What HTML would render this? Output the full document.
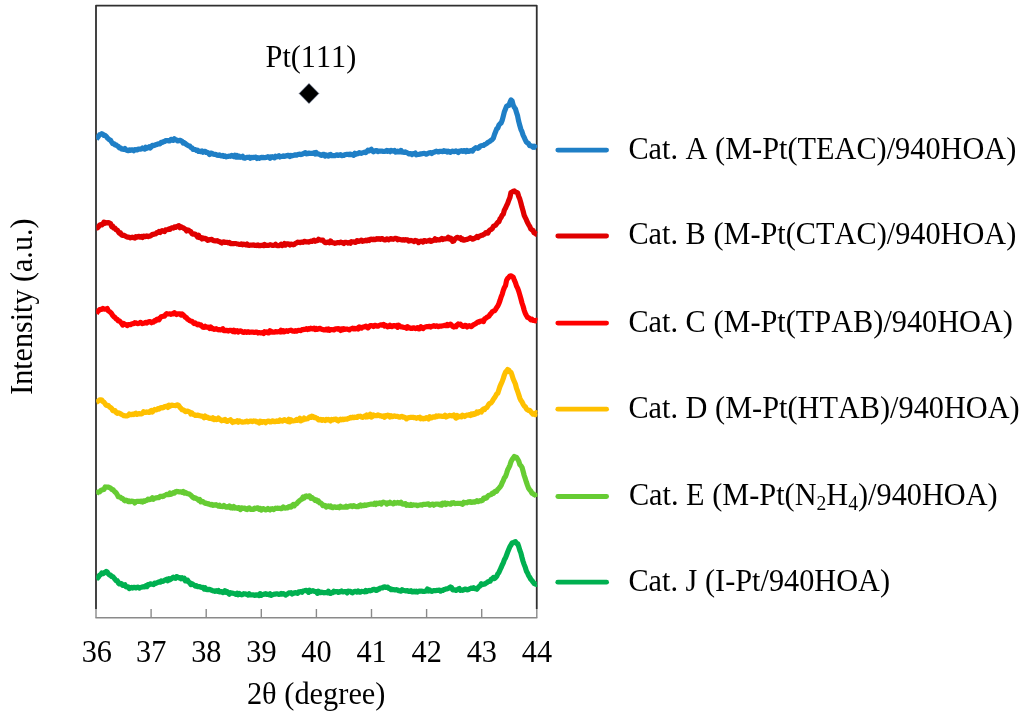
<!DOCTYPE html>
<html lang="en"><head><meta charset="utf-8"><title>XRD patterns</title>
<style>
html,body{margin:0;padding:0;background:#fff;}
body{width:1024px;height:716px;overflow:hidden;}
svg{display:block;}
svg text{font-family:"Liberation Serif","Times New Roman",serif;fill:#000;font-kerning:none;}
</style></head><body>
<svg width="1024" height="716" viewBox="0 0 1024 716">
<rect width="1024" height="716" fill="#ffffff"/>
<g stroke="#8a8a8a" stroke-width="1.4" fill="none">
<line x1="95.4" y1="617.8" x2="537.35" y2="617.8"/>
<line x1="96.0" y1="617.8" x2="96.0" y2="609"/>
<line x1="151.1" y1="617.8" x2="151.1" y2="609"/>
<line x1="206.2" y1="617.8" x2="206.2" y2="609"/>
<line x1="261.3" y1="617.8" x2="261.3" y2="609"/>
<line x1="316.4" y1="617.8" x2="316.4" y2="609"/>
<line x1="371.5" y1="617.8" x2="371.5" y2="609"/>
<line x1="426.6" y1="617.8" x2="426.6" y2="609"/>
<line x1="481.7" y1="617.8" x2="481.7" y2="609"/>
<line x1="536.8" y1="617.8" x2="536.8" y2="609"/>
</g>
<path d="M96.0,609 L96.0,5.6 L536.75,5.6 L536.75,609" fill="none" stroke="#303030" stroke-width="1.8" stroke-linejoin="round"/>
<defs><clipPath id="plotclip"><rect x="96.2" y="5" width="441.4" height="612"/></clipPath></defs>
<g clip-path="url(#plotclip)" fill="none" stroke-width="5.2" stroke-linejoin="round" stroke-linecap="butt">
<path stroke="#1f7fc6" d="M96.3,139.3 L97.4,137.8 L98.5,136.2 L99.6,134.8 L100.7,134.4 L101.8,133.7 L102.9,134.3 L104.0,135.5 L105.1,135.3 L106.2,136.3 L107.3,137.9 L108.4,138.8 L109.5,139.8 L110.6,140.4 L111.7,142.1 L112.8,143.7 L113.9,143.6 L115.0,145.0 L116.1,144.9 L117.2,146.0 L118.3,146.4 L119.4,147.8 L120.5,147.8 L121.6,149.0 L122.7,149.3 L123.8,149.5 L124.9,148.5 L126.0,149.9 L127.1,150.4 L128.2,150.6 L129.3,149.8 L130.4,150.3 L131.5,149.9 L132.6,149.9 L133.7,150.7 L134.8,149.5 L135.9,149.7 L137.0,150.0 L138.1,149.0 L139.2,149.1 L140.3,149.1 L141.4,148.9 L142.5,148.0 L143.6,148.6 L144.7,149.1 L145.8,147.2 L146.9,148.3 L148.0,147.6 L149.1,146.8 L150.2,147.9 L151.3,146.8 L152.4,145.3 L153.5,145.6 L154.6,145.5 L155.7,144.7 L156.8,144.7 L157.9,143.9 L159.0,143.9 L160.1,143.8 L161.2,142.3 L162.3,142.4 L163.4,141.6 L164.5,141.7 L165.6,140.6 L166.7,140.7 L167.8,140.6 L168.9,140.9 L170.0,140.8 L171.1,139.3 L172.2,139.5 L173.3,140.3 L174.4,138.8 L175.5,139.7 L176.6,140.0 L177.7,140.9 L178.8,140.7 L179.9,140.3 L181.0,140.7 L182.1,141.3 L183.2,143.0 L184.3,142.7 L185.4,143.6 L186.5,144.7 L187.6,145.2 L188.7,145.9 L189.8,146.1 L190.9,147.5 L192.0,147.9 L193.1,149.4 L194.2,149.5 L195.3,149.6 L196.4,150.4 L197.5,150.2 L198.6,151.4 L199.7,151.1 L200.8,151.7 L201.9,151.0 L203.0,152.2 L204.1,151.3 L205.2,151.3 L206.3,152.5 L207.4,152.4 L208.5,153.2 L209.6,154.5 L210.7,153.0 L211.8,153.3 L212.9,154.0 L214.0,154.4 L215.1,154.3 L216.2,154.5 L217.3,155.3 L218.4,155.5 L219.5,154.9 L220.6,155.7 L221.7,156.0 L222.8,155.5 L223.9,156.4 L225.0,155.8 L226.1,156.9 L227.2,156.5 L228.3,156.4 L229.4,156.1 L230.5,156.3 L231.6,155.3 L232.7,155.8 L233.8,156.6 L234.9,155.3 L236.0,157.0 L237.1,155.6 L238.2,157.1 L239.3,156.3 L240.4,157.3 L241.5,157.1 L242.6,156.3 L243.7,158.0 L244.8,158.2 L245.9,157.5 L247.0,157.4 L248.1,157.5 L249.2,157.1 L250.3,158.3 L251.4,157.4 L252.5,157.7 L253.6,157.3 L254.7,157.4 L255.8,157.1 L256.9,158.5 L258.0,157.7 L259.1,158.3 L260.2,157.8 L261.3,157.4 L262.4,157.6 L263.5,157.4 L264.6,157.7 L265.7,157.4 L266.8,157.4 L267.9,156.7 L269.0,157.0 L270.1,158.3 L271.2,156.9 L272.3,156.7 L273.4,157.3 L274.5,157.8 L275.6,156.2 L276.7,156.8 L277.8,156.4 L278.9,155.7 L280.0,157.0 L281.1,156.5 L282.2,156.4 L283.3,155.9 L284.4,156.5 L285.5,155.9 L286.6,156.0 L287.7,155.4 L288.8,155.3 L289.9,156.6 L291.0,155.4 L292.1,155.8 L293.2,155.5 L294.3,155.1 L295.4,154.8 L296.5,155.2 L297.6,154.5 L298.7,154.3 L299.8,154.2 L300.9,154.6 L302.0,154.2 L303.1,153.8 L304.2,153.2 L305.3,152.6 L306.4,153.8 L307.5,153.7 L308.6,153.0 L309.7,153.3 L310.8,153.4 L311.9,153.4 L313.0,153.4 L314.1,152.7 L315.2,154.0 L316.3,152.6 L317.4,154.0 L318.5,154.0 L319.6,154.4 L320.7,155.2 L321.8,155.4 L322.9,154.3 L324.0,154.3 L325.1,156.0 L326.2,155.0 L327.3,155.6 L328.4,156.1 L329.5,154.7 L330.6,154.4 L331.7,155.7 L332.8,155.6 L333.9,155.5 L335.0,155.6 L336.1,155.1 L337.2,154.8 L338.3,155.5 L339.4,155.0 L340.5,154.6 L341.6,155.7 L342.7,155.3 L343.8,155.4 L344.9,154.6 L346.0,154.6 L347.1,154.3 L348.2,154.3 L349.3,154.7 L350.4,154.1 L351.5,154.6 L352.6,154.5 L353.7,155.3 L354.8,153.2 L355.9,154.4 L357.0,153.7 L358.1,153.6 L359.2,152.6 L360.3,153.0 L361.4,153.4 L362.5,152.7 L363.6,152.5 L364.7,152.0 L365.8,152.6 L366.9,151.6 L368.0,150.2 L369.1,150.9 L370.2,150.1 L371.3,149.3 L372.4,150.8 L373.5,151.8 L374.6,151.1 L375.7,150.5 L376.8,150.6 L377.9,151.7 L379.0,151.2 L380.1,151.1 L381.2,151.1 L382.3,151.1 L383.4,151.5 L384.5,151.4 L385.6,151.2 L386.7,150.5 L387.8,151.4 L388.9,150.7 L390.0,151.7 L391.1,150.4 L392.2,151.0 L393.3,151.1 L394.4,150.4 L395.5,152.1 L396.6,152.0 L397.7,151.1 L398.8,151.9 L399.9,151.9 L401.0,150.4 L402.1,152.1 L403.2,152.1 L404.3,152.4 L405.4,151.9 L406.5,152.6 L407.6,152.9 L408.7,153.9 L409.8,153.7 L410.9,153.7 L412.0,154.7 L413.1,153.7 L414.2,153.8 L415.3,153.0 L416.4,154.8 L417.5,154.5 L418.6,154.4 L419.7,154.2 L420.8,153.8 L421.9,153.8 L423.0,153.5 L424.1,153.4 L425.2,153.5 L426.3,154.2 L427.4,153.6 L428.5,153.1 L429.6,152.7 L430.7,152.5 L431.8,153.5 L432.9,152.7 L434.0,152.2 L435.1,151.8 L436.2,151.2 L437.3,151.6 L438.4,152.0 L439.5,151.3 L440.6,151.4 L441.7,151.4 L442.8,151.6 L443.9,150.6 L445.0,151.4 L446.1,151.0 L447.2,152.0 L448.3,151.1 L449.4,151.8 L450.5,152.3 L451.6,151.3 L452.7,151.2 L453.8,151.6 L454.9,151.4 L456.0,150.9 L457.1,151.7 L458.2,152.5 L459.3,151.2 L460.4,151.2 L461.5,150.7 L462.6,151.4 L463.7,150.5 L464.8,150.5 L465.9,151.7 L467.0,150.4 L468.1,151.4 L469.2,151.5 L470.3,150.7 L471.4,150.7 L472.5,151.1 L473.6,149.4 L474.7,148.6 L475.8,147.7 L476.9,147.9 L478.0,148.3 L479.1,147.6 L480.2,146.1 L481.3,145.7 L482.4,145.5 L483.5,145.4 L484.6,144.5 L485.7,144.1 L486.8,143.4 L487.9,142.3 L489.0,141.8 L490.1,141.2 L491.2,140.2 L492.3,139.5 L493.4,138.1 L494.5,134.5 L495.6,131.7 L496.7,128.8 L497.8,128.2 L498.9,125.2 L500.0,123.8 L501.1,123.1 L502.2,120.3 L503.3,116.1 L504.4,111.7 L505.5,109.0 L506.6,106.2 L507.7,105.6 L508.8,105.5 L509.9,102.6 L511.0,100.0 L512.1,101.0 L513.2,105.1 L514.3,107.2 L515.4,108.7 L516.5,112.4 L517.6,115.9 L518.7,121.4 L519.8,125.5 L520.9,129.3 L522.0,131.7 L523.1,135.1 L524.2,137.4 L525.3,139.8 L526.4,142.0 L527.5,142.9 L528.6,143.7 L529.7,145.6 L530.8,145.6 L531.9,146.3 L533.0,147.2 L534.1,146.1 L535.2,147.0 L536.3,147.9 L536.6,148.1"/>
<path stroke="#e00000" d="M96.3,228.1 L97.4,228.0 L98.5,226.8 L99.6,225.2 L100.7,224.7 L101.8,225.0 L102.9,224.1 L104.0,222.1 L105.1,223.3 L106.2,222.6 L107.3,223.0 L108.4,222.5 L109.5,223.2 L110.6,223.7 L111.7,226.7 L112.8,226.2 L113.9,228.2 L115.0,228.1 L116.1,229.8 L117.2,230.0 L118.3,231.7 L119.4,233.3 L120.5,233.0 L121.6,235.1 L122.7,235.4 L123.8,235.2 L124.9,235.9 L126.0,236.4 L127.1,237.1 L128.2,237.1 L129.3,237.3 L130.4,237.8 L131.5,237.4 L132.6,237.2 L133.7,237.8 L134.8,238.1 L135.9,236.6 L137.0,237.2 L138.1,236.6 L139.2,236.3 L140.3,237.2 L141.4,236.4 L142.5,237.4 L143.6,236.1 L144.7,236.7 L145.8,236.3 L146.9,235.9 L148.0,236.6 L149.1,236.0 L150.2,236.1 L151.3,235.4 L152.4,234.3 L153.5,234.4 L154.6,233.9 L155.7,234.0 L156.8,232.5 L157.9,232.6 L159.0,231.4 L160.1,232.4 L161.2,231.2 L162.3,230.6 L163.4,231.3 L164.5,231.6 L165.6,229.9 L166.7,229.8 L167.8,229.6 L168.9,228.9 L170.0,229.3 L171.1,228.2 L172.2,227.8 L173.3,228.1 L174.4,227.0 L175.5,227.4 L176.6,226.5 L177.7,226.2 L178.8,225.7 L179.9,227.7 L181.0,226.7 L182.1,227.4 L183.2,227.8 L184.3,228.6 L185.4,229.2 L186.5,230.9 L187.6,229.9 L188.7,230.3 L189.8,231.2 L190.9,231.7 L192.0,233.6 L193.1,234.2 L194.2,233.9 L195.3,234.3 L196.4,235.5 L197.5,237.0 L198.6,235.3 L199.7,237.7 L200.8,237.3 L201.9,238.9 L203.0,238.0 L204.1,238.7 L205.2,238.3 L206.3,238.8 L207.4,240.3 L208.5,240.2 L209.6,239.7 L210.7,239.7 L211.8,239.3 L212.9,240.3 L214.0,240.7 L215.1,240.8 L216.2,241.0 L217.3,240.6 L218.4,241.4 L219.5,241.6 L220.6,242.5 L221.7,243.0 L222.8,242.0 L223.9,241.8 L225.0,242.4 L226.1,242.3 L227.2,242.4 L228.3,242.9 L229.4,242.5 L230.5,243.6 L231.6,243.4 L232.7,243.7 L233.8,243.6 L234.9,243.5 L236.0,243.5 L237.1,244.0 L238.2,244.0 L239.3,244.5 L240.4,244.5 L241.5,243.9 L242.6,244.8 L243.7,244.1 L244.8,244.6 L245.9,244.9 L247.0,243.9 L248.1,245.2 L249.2,245.3 L250.3,245.2 L251.4,245.1 L252.5,245.2 L253.6,244.9 L254.7,245.4 L255.8,245.3 L256.9,245.6 L258.0,244.9 L259.1,245.7 L260.2,245.6 L261.3,245.4 L262.4,245.2 L263.5,245.7 L264.6,244.4 L265.7,245.5 L266.8,245.3 L267.9,245.3 L269.0,245.3 L270.1,244.7 L271.2,245.0 L272.3,245.5 L273.4,245.3 L274.5,245.2 L275.6,244.3 L276.7,245.4 L277.8,245.7 L278.9,245.7 L280.0,245.2 L281.1,244.2 L282.2,245.6 L283.3,244.9 L284.4,243.6 L285.5,245.1 L286.6,243.9 L287.7,243.9 L288.8,244.1 L289.9,245.0 L291.0,244.0 L292.1,244.2 L293.2,244.8 L294.3,244.5 L295.4,243.4 L296.5,243.0 L297.6,242.2 L298.7,242.3 L299.8,242.6 L300.9,242.4 L302.0,242.0 L303.1,242.4 L304.2,241.3 L305.3,241.6 L306.4,242.0 L307.5,241.8 L308.6,242.1 L309.7,241.6 L310.8,241.2 L311.9,241.5 L313.0,240.7 L314.1,240.2 L315.2,241.3 L316.3,240.7 L317.4,240.7 L318.5,239.3 L319.6,240.0 L320.7,240.1 L321.8,240.3 L322.9,240.1 L324.0,241.7 L325.1,242.7 L326.2,242.6 L327.3,242.1 L328.4,242.4 L329.5,242.8 L330.6,240.9 L331.7,242.3 L332.8,242.7 L333.9,242.8 L335.0,243.3 L336.1,243.0 L337.2,242.6 L338.3,242.6 L339.4,242.8 L340.5,242.1 L341.6,242.4 L342.7,242.9 L343.8,243.5 L344.9,242.3 L346.0,242.4 L347.1,242.5 L348.2,243.1 L349.3,242.4 L350.4,243.2 L351.5,241.7 L352.6,242.0 L353.7,241.9 L354.8,242.3 L355.9,242.3 L357.0,240.7 L358.1,240.8 L359.2,241.4 L360.3,240.7 L361.4,240.1 L362.5,241.3 L363.6,240.9 L364.7,240.8 L365.8,240.1 L366.9,240.8 L368.0,239.9 L369.1,240.5 L370.2,239.3 L371.3,239.2 L372.4,239.7 L373.5,239.1 L374.6,239.7 L375.7,239.4 L376.8,238.6 L377.9,239.1 L379.0,238.7 L380.1,239.4 L381.2,238.5 L382.3,238.6 L383.4,239.5 L384.5,240.0 L385.6,239.9 L386.7,238.9 L387.8,239.0 L388.9,239.8 L390.0,238.9 L391.1,238.5 L392.2,239.1 L393.3,239.3 L394.4,238.7 L395.5,238.3 L396.6,238.5 L397.7,239.7 L398.8,239.0 L399.9,239.5 L401.0,239.8 L402.1,240.1 L403.2,239.7 L404.3,240.2 L405.4,239.6 L406.5,240.0 L407.6,239.8 L408.7,241.1 L409.8,240.7 L410.9,240.4 L412.0,240.8 L413.1,241.0 L414.2,241.6 L415.3,240.4 L416.4,240.7 L417.5,241.1 L418.6,242.6 L419.7,241.7 L420.8,241.1 L421.9,241.4 L423.0,242.1 L424.1,240.7 L425.2,240.6 L426.3,241.3 L427.4,240.9 L428.5,240.9 L429.6,240.1 L430.7,241.4 L431.8,241.2 L432.9,240.4 L434.0,240.4 L435.1,238.8 L436.2,240.2 L437.3,239.6 L438.4,239.9 L439.5,239.9 L440.6,239.3 L441.7,238.4 L442.8,239.5 L443.9,238.8 L445.0,238.9 L446.1,238.7 L447.2,238.6 L448.3,237.2 L449.4,238.9 L450.5,238.1 L451.6,238.7 L452.7,241.4 L453.8,240.9 L454.9,239.0 L456.0,238.2 L457.1,237.3 L458.2,237.7 L459.3,238.4 L460.4,237.8 L461.5,239.6 L462.6,239.0 L463.7,240.2 L464.8,239.9 L465.9,239.6 L467.0,239.5 L468.1,238.9 L469.2,238.6 L470.3,237.7 L471.4,238.3 L472.5,239.1 L473.6,238.9 L474.7,238.2 L475.8,237.6 L476.9,236.5 L478.0,237.4 L479.1,236.2 L480.2,235.9 L481.3,235.4 L482.4,235.2 L483.5,234.5 L484.6,234.1 L485.7,232.8 L486.8,232.4 L487.9,233.1 L489.0,230.9 L490.1,229.9 L491.2,229.4 L492.3,228.5 L493.4,226.4 L494.5,225.8 L495.6,225.2 L496.7,223.7 L497.8,222.3 L498.9,221.7 L500.0,218.9 L501.1,217.5 L502.2,215.2 L503.3,214.2 L504.4,210.0 L505.5,208.2 L506.6,205.6 L507.7,203.3 L508.8,200.2 L509.9,197.6 L511.0,192.4 L512.1,192.1 L513.2,191.2 L514.3,190.9 L515.4,192.0 L516.5,192.2 L517.6,192.9 L518.7,196.4 L519.8,199.1 L520.9,203.0 L522.0,207.3 L523.1,211.0 L524.2,215.3 L525.3,217.7 L526.4,219.9 L527.5,222.6 L528.6,224.6 L529.7,226.3 L530.8,228.9 L531.9,229.9 L533.0,230.4 L534.1,232.9 L535.2,233.3 L536.3,234.2 L536.6,234.2"/>
<path stroke="#ff0000" d="M96.3,313.7 L97.4,311.7 L98.5,310.9 L99.6,309.5 L100.7,309.4 L101.8,309.4 L102.9,308.4 L104.0,309.1 L105.1,309.1 L106.2,309.3 L107.3,308.6 L108.4,311.0 L109.5,311.5 L110.6,312.4 L111.7,313.7 L112.8,315.6 L113.9,316.8 L115.0,317.5 L116.1,318.9 L117.2,319.4 L118.3,320.9 L119.4,320.9 L120.5,322.0 L121.6,323.4 L122.7,325.0 L123.8,323.6 L124.9,324.5 L126.0,324.6 L127.1,325.6 L128.2,324.5 L129.3,324.7 L130.4,324.7 L131.5,324.0 L132.6,323.7 L133.7,323.7 L134.8,322.7 L135.9,322.9 L137.0,323.4 L138.1,323.6 L139.2,323.3 L140.3,322.3 L141.4,323.0 L142.5,323.6 L143.6,323.3 L144.7,322.9 L145.8,322.3 L146.9,323.0 L148.0,322.2 L149.1,321.7 L150.2,321.7 L151.3,322.7 L152.4,321.8 L153.5,322.1 L154.6,320.7 L155.7,320.9 L156.8,319.4 L157.9,319.0 L159.0,319.7 L160.1,318.1 L161.2,316.8 L162.3,316.5 L163.4,316.2 L164.5,316.1 L165.6,314.7 L166.7,313.6 L167.8,314.0 L168.9,314.0 L170.0,313.8 L171.1,314.3 L172.2,313.7 L173.3,313.8 L174.4,312.7 L175.5,313.8 L176.6,314.5 L177.7,313.9 L178.8,313.8 L179.9,313.9 L181.0,315.1 L182.1,313.9 L183.2,314.9 L184.3,316.0 L185.4,317.3 L186.5,317.7 L187.6,319.2 L188.7,319.8 L189.8,320.7 L190.9,321.2 L192.0,321.3 L193.1,322.5 L194.2,323.5 L195.3,323.0 L196.4,323.9 L197.5,324.8 L198.6,324.2 L199.7,325.2 L200.8,324.8 L201.9,326.3 L203.0,327.2 L204.1,327.3 L205.2,326.3 L206.3,327.1 L207.4,327.0 L208.5,327.3 L209.6,328.4 L210.7,327.1 L211.8,328.7 L212.9,328.4 L214.0,329.4 L215.1,329.0 L216.2,328.7 L217.3,329.4 L218.4,329.8 L219.5,329.6 L220.6,330.0 L221.7,329.5 L222.8,328.8 L223.9,330.6 L225.0,330.6 L226.1,330.4 L227.2,330.4 L228.3,331.1 L229.4,330.4 L230.5,330.3 L231.6,330.7 L232.7,331.6 L233.8,330.3 L234.9,331.8 L236.0,330.9 L237.1,330.7 L238.2,332.1 L239.3,331.4 L240.4,330.8 L241.5,331.4 L242.6,332.2 L243.7,332.4 L244.8,331.6 L245.9,332.1 L247.0,332.4 L248.1,331.7 L249.2,332.3 L250.3,332.2 L251.4,332.0 L252.5,332.0 L253.6,332.4 L254.7,332.4 L255.8,332.1 L256.9,332.2 L258.0,333.0 L259.1,332.5 L260.2,332.8 L261.3,332.9 L262.4,332.6 L263.5,333.4 L264.6,331.7 L265.7,332.5 L266.8,331.9 L267.9,333.0 L269.0,332.9 L270.1,330.8 L271.2,331.3 L272.3,332.2 L273.4,332.2 L274.5,332.1 L275.6,331.6 L276.7,331.9 L277.8,331.9 L278.9,331.5 L280.0,332.0 L281.1,330.2 L282.2,331.7 L283.3,330.7 L284.4,331.8 L285.5,331.1 L286.6,330.7 L287.7,331.3 L288.8,330.5 L289.9,330.5 L291.0,330.1 L292.1,330.9 L293.2,331.1 L294.3,331.3 L295.4,330.6 L296.5,331.2 L297.6,330.5 L298.7,330.3 L299.8,330.5 L300.9,330.6 L302.0,329.7 L303.1,329.6 L304.2,329.4 L305.3,329.4 L306.4,328.7 L307.5,329.6 L308.6,328.7 L309.7,329.1 L310.8,328.2 L311.9,328.8 L313.0,328.7 L314.1,328.2 L315.2,329.5 L316.3,328.5 L317.4,329.3 L318.5,329.0 L319.6,328.3 L320.7,328.7 L321.8,329.5 L322.9,329.6 L324.0,329.9 L325.1,329.9 L326.2,329.1 L327.3,330.0 L328.4,328.9 L329.5,330.3 L330.6,329.6 L331.7,329.6 L332.8,329.8 L333.9,330.0 L335.0,329.0 L336.1,328.8 L337.2,329.1 L338.3,328.5 L339.4,329.1 L340.5,330.4 L341.6,328.9 L342.7,329.8 L343.8,328.6 L344.9,329.4 L346.0,329.0 L347.1,329.1 L348.2,329.4 L349.3,329.9 L350.4,329.0 L351.5,328.8 L352.6,328.1 L353.7,328.9 L354.8,328.3 L355.9,328.8 L357.0,328.2 L358.1,329.1 L359.2,326.9 L360.3,327.7 L361.4,328.2 L362.5,327.3 L363.6,326.9 L364.7,326.9 L365.8,326.1 L366.9,326.7 L368.0,327.8 L369.1,327.0 L370.2,325.6 L371.3,325.6 L372.4,325.8 L373.5,326.5 L374.6,325.4 L375.7,325.4 L376.8,326.2 L377.9,326.2 L379.0,325.5 L380.1,325.0 L381.2,324.8 L382.3,325.2 L383.4,324.4 L384.5,326.0 L385.6,325.3 L386.7,326.0 L387.8,326.8 L388.9,326.5 L390.0,325.2 L391.1,326.4 L392.2,326.6 L393.3,325.7 L394.4,325.6 L395.5,326.2 L396.6,325.5 L397.7,327.3 L398.8,325.3 L399.9,326.1 L401.0,326.8 L402.1,326.9 L403.2,327.3 L404.3,327.5 L405.4,327.4 L406.5,328.3 L407.6,326.7 L408.7,328.0 L409.8,327.8 L410.9,328.4 L412.0,328.4 L413.1,327.8 L414.2,327.9 L415.3,328.6 L416.4,328.2 L417.5,327.6 L418.6,328.9 L419.7,328.9 L420.8,326.7 L421.9,327.6 L423.0,328.6 L424.1,327.5 L425.2,327.1 L426.3,326.8 L427.4,326.5 L428.5,326.6 L429.6,326.3 L430.7,327.0 L431.8,326.3 L432.9,326.2 L434.0,325.7 L435.1,326.3 L436.2,325.8 L437.3,326.1 L438.4,326.7 L439.5,326.2 L440.6,326.2 L441.7,326.1 L442.8,325.8 L443.9,325.6 L445.0,325.3 L446.1,325.7 L447.2,324.4 L448.3,325.5 L449.4,324.6 L450.5,324.1 L451.6,325.2 L452.7,326.4 L453.8,327.0 L454.9,326.2 L456.0,326.7 L457.1,325.1 L458.2,323.9 L459.3,324.6 L460.4,324.1 L461.5,325.4 L462.6,326.3 L463.7,326.3 L464.8,325.3 L465.9,325.6 L467.0,326.9 L468.1,326.0 L469.2,325.7 L470.3,326.1 L471.4,326.7 L472.5,325.7 L473.6,324.6 L474.7,324.2 L475.8,323.7 L476.9,322.6 L478.0,321.9 L479.1,322.1 L480.2,321.2 L481.3,321.2 L482.4,320.8 L483.5,321.5 L484.6,318.9 L485.7,318.4 L486.8,317.4 L487.9,316.8 L489.0,316.2 L490.1,314.4 L491.2,313.3 L492.3,311.8 L493.4,311.1 L494.5,310.8 L495.6,309.4 L496.7,307.5 L497.8,306.0 L498.9,303.5 L500.0,300.5 L501.1,296.9 L502.2,294.3 L503.3,290.4 L504.4,287.5 L505.5,285.7 L506.6,280.3 L507.7,278.4 L508.8,277.3 L509.9,276.1 L511.0,275.9 L512.1,276.5 L513.2,277.2 L514.3,280.1 L515.4,282.5 L516.5,286.0 L517.6,288.1 L518.7,291.1 L519.8,294.9 L520.9,298.8 L522.0,303.0 L523.1,306.3 L524.2,310.3 L525.3,313.3 L526.4,315.5 L527.5,317.3 L528.6,317.7 L529.7,318.6 L530.8,319.8 L531.9,319.1 L533.0,320.4 L534.1,320.4 L535.2,320.8 L536.3,320.3 L536.6,320.9"/>
<path stroke="#ffc000" d="M96.3,402.2 L97.4,401.6 L98.5,400.9 L99.6,399.9 L100.7,399.9 L101.8,400.1 L102.9,401.6 L104.0,402.3 L105.1,403.8 L106.2,405.4 L107.3,405.4 L108.4,405.6 L109.5,407.0 L110.6,407.6 L111.7,408.5 L112.8,410.7 L113.9,410.8 L115.0,410.6 L116.1,412.4 L117.2,413.3 L118.3,412.9 L119.4,413.1 L120.5,413.8 L121.6,414.5 L122.7,415.0 L123.8,415.6 L124.9,415.8 L126.0,415.9 L127.1,415.9 L128.2,415.4 L129.3,414.0 L130.4,414.6 L131.5,414.6 L132.6,414.0 L133.7,414.5 L134.8,413.6 L135.9,413.2 L137.0,414.4 L138.1,413.9 L139.2,413.6 L140.3,413.9 L141.4,413.9 L142.5,413.4 L143.6,411.7 L144.7,412.5 L145.8,412.4 L146.9,411.9 L148.0,412.2 L149.1,412.5 L150.2,411.2 L151.3,410.5 L152.4,412.0 L153.5,410.3 L154.6,409.5 L155.7,410.0 L156.8,409.7 L157.9,408.7 L159.0,409.2 L160.1,408.1 L161.2,407.5 L162.3,407.8 L163.4,407.7 L164.5,406.6 L165.6,406.7 L166.7,406.1 L167.8,407.4 L168.9,405.2 L170.0,406.2 L171.1,405.3 L172.2,405.1 L173.3,405.5 L174.4,405.5 L175.5,405.6 L176.6,405.1 L177.7,404.9 L178.8,405.7 L179.9,407.3 L181.0,408.4 L182.1,409.7 L183.2,409.8 L184.3,410.7 L185.4,411.6 L186.5,411.4 L187.6,411.0 L188.7,411.6 L189.8,411.9 L190.9,414.0 L192.0,413.0 L193.1,414.5 L194.2,414.5 L195.3,415.4 L196.4,415.4 L197.5,415.1 L198.6,415.3 L199.7,415.8 L200.8,416.1 L201.9,416.0 L203.0,416.5 L204.1,417.7 L205.2,416.1 L206.3,417.4 L207.4,417.0 L208.5,417.9 L209.6,418.5 L210.7,418.2 L211.8,418.9 L212.9,417.8 L214.0,419.5 L215.1,418.7 L216.2,419.6 L217.3,419.5 L218.4,418.1 L219.5,419.3 L220.6,419.9 L221.7,420.8 L222.8,420.2 L223.9,420.3 L225.0,419.4 L226.1,421.1 L227.2,421.4 L228.3,420.5 L229.4,420.5 L230.5,419.8 L231.6,421.3 L232.7,422.4 L233.8,421.4 L234.9,421.8 L236.0,421.6 L237.1,420.8 L238.2,422.2 L239.3,420.9 L240.4,421.5 L241.5,421.8 L242.6,422.2 L243.7,422.0 L244.8,422.0 L245.9,421.4 L247.0,421.1 L248.1,421.9 L249.2,421.4 L250.3,421.1 L251.4,421.2 L252.5,421.6 L253.6,420.9 L254.7,421.2 L255.8,421.0 L256.9,422.0 L258.0,422.1 L259.1,423.0 L260.2,421.1 L261.3,421.5 L262.4,422.4 L263.5,421.7 L264.6,421.6 L265.7,422.7 L266.8,421.6 L267.9,421.1 L269.0,421.0 L270.1,421.9 L271.2,421.8 L272.3,420.8 L273.4,421.0 L274.5,421.7 L275.6,421.7 L276.7,420.9 L277.8,421.5 L278.9,421.4 L280.0,420.0 L281.1,420.8 L282.2,421.1 L283.3,420.5 L284.4,419.6 L285.5,420.5 L286.6,421.0 L287.7,421.5 L288.8,419.3 L289.9,421.9 L291.0,419.8 L292.1,420.9 L293.2,421.0 L294.3,420.8 L295.4,420.3 L296.5,419.5 L297.6,420.3 L298.7,419.4 L299.8,418.2 L300.9,420.9 L302.0,419.5 L303.1,419.8 L304.2,418.1 L305.3,419.2 L306.4,419.0 L307.5,418.8 L308.6,417.8 L309.7,416.9 L310.8,417.4 L311.9,416.2 L313.0,416.5 L314.1,417.6 L315.2,417.3 L316.3,418.1 L317.4,418.5 L318.5,419.9 L319.6,419.8 L320.7,419.4 L321.8,420.4 L322.9,419.6 L324.0,419.9 L325.1,420.6 L326.2,419.4 L327.3,419.9 L328.4,419.3 L329.5,420.1 L330.6,420.9 L331.7,419.5 L332.8,420.0 L333.9,419.4 L335.0,419.2 L336.1,419.1 L337.2,420.5 L338.3,421.0 L339.4,419.9 L340.5,419.1 L341.6,419.8 L342.7,419.1 L343.8,419.6 L344.9,419.2 L346.0,419.1 L347.1,419.1 L348.2,418.3 L349.3,418.3 L350.4,417.4 L351.5,417.9 L352.6,417.2 L353.7,417.7 L354.8,417.1 L355.9,417.5 L357.0,417.5 L358.1,416.3 L359.2,416.4 L360.3,416.2 L361.4,417.0 L362.5,417.4 L363.6,416.8 L364.7,416.0 L365.8,416.9 L366.9,415.1 L368.0,416.7 L369.1,415.4 L370.2,414.2 L371.3,417.1 L372.4,416.5 L373.5,415.0 L374.6,415.7 L375.7,415.5 L376.8,415.7 L377.9,414.9 L379.0,415.4 L380.1,416.0 L381.2,415.9 L382.3,416.5 L383.4,416.0 L384.5,417.3 L385.6,415.6 L386.7,416.2 L387.8,415.1 L388.9,415.5 L390.0,417.0 L391.1,415.8 L392.2,416.6 L393.3,416.4 L394.4,415.9 L395.5,416.3 L396.6,416.3 L397.7,416.4 L398.8,417.1 L399.9,417.1 L401.0,416.5 L402.1,416.4 L403.2,417.2 L404.3,417.1 L405.4,417.8 L406.5,418.9 L407.6,418.0 L408.7,417.6 L409.8,417.6 L410.9,417.3 L412.0,417.4 L413.1,417.3 L414.2,417.7 L415.3,417.7 L416.4,418.3 L417.5,417.7 L418.6,417.8 L419.7,417.2 L420.8,418.8 L421.9,418.2 L423.0,418.9 L424.1,418.3 L425.2,418.7 L426.3,417.7 L427.4,418.1 L428.5,419.0 L429.6,416.7 L430.7,417.7 L431.8,417.8 L432.9,416.9 L434.0,416.9 L435.1,417.1 L436.2,415.9 L437.3,416.6 L438.4,415.9 L439.5,416.1 L440.6,416.1 L441.7,416.3 L442.8,416.4 L443.9,416.4 L445.0,415.2 L446.1,417.0 L447.2,416.4 L448.3,416.1 L449.4,415.4 L450.5,415.5 L451.6,415.8 L452.7,415.9 L453.8,415.0 L454.9,416.7 L456.0,418.1 L457.1,415.4 L458.2,417.0 L459.3,416.6 L460.4,416.2 L461.5,416.9 L462.6,415.3 L463.7,416.0 L464.8,416.5 L465.9,415.4 L467.0,415.1 L468.1,415.2 L469.2,414.7 L470.3,415.6 L471.4,414.1 L472.5,414.9 L473.6,413.6 L474.7,414.4 L475.8,413.7 L476.9,411.9 L478.0,412.9 L479.1,411.8 L480.2,411.5 L481.3,412.0 L482.4,409.8 L483.5,409.0 L484.6,409.5 L485.7,407.9 L486.8,407.6 L487.9,405.9 L489.0,404.0 L490.1,403.3 L491.2,402.8 L492.3,401.3 L493.4,399.3 L494.5,397.8 L495.6,396.0 L496.7,393.9 L497.8,393.2 L498.9,389.7 L500.0,386.4 L501.1,383.9 L502.2,381.5 L503.3,378.4 L504.4,374.9 L505.5,372.2 L506.6,371.1 L507.7,369.5 L508.8,370.0 L509.9,372.0 L511.0,372.4 L512.1,375.4 L513.2,379.0 L514.3,381.5 L515.4,384.0 L516.5,388.3 L517.6,391.2 L518.7,394.5 L519.8,398.1 L520.9,400.4 L522.0,401.8 L523.1,404.2 L524.2,406.0 L525.3,406.7 L526.4,409.0 L527.5,409.8 L528.6,410.4 L529.7,410.3 L530.8,411.7 L531.9,413.0 L533.0,414.2 L534.1,413.8 L535.2,414.6 L536.3,412.8 L536.6,413.1"/>
<path stroke="#66cc33" d="M96.3,494.2 L97.4,492.4 L98.5,491.8 L99.6,492.0 L100.7,490.6 L101.8,490.0 L102.9,489.6 L104.0,489.4 L105.1,487.0 L106.2,487.3 L107.3,487.0 L108.4,487.1 L109.5,487.6 L110.6,488.1 L111.7,489.4 L112.8,489.5 L113.9,490.8 L115.0,492.0 L116.1,492.7 L117.2,494.6 L118.3,496.7 L119.4,496.9 L120.5,497.2 L121.6,498.4 L122.7,498.6 L123.8,499.9 L124.9,500.8 L126.0,500.2 L127.1,500.7 L128.2,501.7 L129.3,501.0 L130.4,501.6 L131.5,501.0 L132.6,501.2 L133.7,501.5 L134.8,503.0 L135.9,501.5 L137.0,501.4 L138.1,501.3 L139.2,501.3 L140.3,501.6 L141.4,501.1 L142.5,502.0 L143.6,500.8 L144.7,501.3 L145.8,500.4 L146.9,500.4 L148.0,499.1 L149.1,499.6 L150.2,499.4 L151.3,499.0 L152.4,497.7 L153.5,499.2 L154.6,498.2 L155.7,497.9 L156.8,497.8 L157.9,497.5 L159.0,497.6 L160.1,496.4 L161.2,496.3 L162.3,496.6 L163.4,496.2 L164.5,495.5 L165.6,495.0 L166.7,494.4 L167.8,494.4 L168.9,494.7 L170.0,493.1 L171.1,494.3 L172.2,493.7 L173.3,492.7 L174.4,493.2 L175.5,491.7 L176.6,491.4 L177.7,491.5 L178.8,491.9 L179.9,491.9 L181.0,491.9 L182.1,492.4 L183.2,491.4 L184.3,493.1 L185.4,492.4 L186.5,493.1 L187.6,493.7 L188.7,493.8 L189.8,494.4 L190.9,495.3 L192.0,496.5 L193.1,497.5 L194.2,498.1 L195.3,497.8 L196.4,498.6 L197.5,499.1 L198.6,500.4 L199.7,499.6 L200.8,501.9 L201.9,501.4 L203.0,501.6 L204.1,502.6 L205.2,503.3 L206.3,503.2 L207.4,503.9 L208.5,503.7 L209.6,504.5 L210.7,504.8 L211.8,504.3 L212.9,505.4 L214.0,504.9 L215.1,505.1 L216.2,504.7 L217.3,505.3 L218.4,506.1 L219.5,505.2 L220.6,506.4 L221.7,506.4 L222.8,506.6 L223.9,505.4 L225.0,506.7 L226.1,507.2 L227.2,506.6 L228.3,507.1 L229.4,505.9 L230.5,507.7 L231.6,507.0 L232.7,508.0 L233.8,506.6 L234.9,508.1 L236.0,507.7 L237.1,508.3 L238.2,507.5 L239.3,507.8 L240.4,509.5 L241.5,507.9 L242.6,508.1 L243.7,508.4 L244.8,508.1 L245.9,509.3 L247.0,509.6 L248.1,508.3 L249.2,507.8 L250.3,509.3 L251.4,509.3 L252.5,509.2 L253.6,509.3 L254.7,508.2 L255.8,508.6 L256.9,507.9 L258.0,507.9 L259.1,509.2 L260.2,508.4 L261.3,510.0 L262.4,508.9 L263.5,508.6 L264.6,509.4 L265.7,510.0 L266.8,509.4 L267.9,508.5 L269.0,509.4 L270.1,510.0 L271.2,508.9 L272.3,508.7 L273.4,509.6 L274.5,509.0 L275.6,508.2 L276.7,508.4 L277.8,508.1 L278.9,508.5 L280.0,508.3 L281.1,508.7 L282.2,508.3 L283.3,507.0 L284.4,507.9 L285.5,508.1 L286.6,507.7 L287.7,507.9 L288.8,506.8 L289.9,506.4 L291.0,507.1 L292.1,505.7 L293.2,504.6 L294.3,505.8 L295.4,504.3 L296.5,503.9 L297.6,502.5 L298.7,501.5 L299.8,500.4 L300.9,499.7 L302.0,499.2 L303.1,497.0 L304.2,498.0 L305.3,496.3 L306.4,495.9 L307.5,496.6 L308.6,496.2 L309.7,495.8 L310.8,498.2 L311.9,497.4 L313.0,498.7 L314.1,499.2 L315.2,500.4 L316.3,499.9 L317.4,501.3 L318.5,501.0 L319.6,502.8 L320.7,502.8 L321.8,503.8 L322.9,505.6 L324.0,505.2 L325.1,505.5 L326.2,507.0 L327.3,506.3 L328.4,505.9 L329.5,506.9 L330.6,506.0 L331.7,507.4 L332.8,507.6 L333.9,506.8 L335.0,506.8 L336.1,507.4 L337.2,507.3 L338.3,506.8 L339.4,507.7 L340.5,506.3 L341.6,507.1 L342.7,507.1 L343.8,507.0 L344.9,507.2 L346.0,506.3 L347.1,507.2 L348.2,506.6 L349.3,506.3 L350.4,505.8 L351.5,505.8 L352.6,506.6 L353.7,505.7 L354.8,506.2 L355.9,506.6 L357.0,506.5 L358.1,506.7 L359.2,505.5 L360.3,505.0 L361.4,506.0 L362.5,505.4 L363.6,505.7 L364.7,504.9 L365.8,505.4 L366.9,505.1 L368.0,504.8 L369.1,504.5 L370.2,504.3 L371.3,504.1 L372.4,504.0 L373.5,504.3 L374.6,503.3 L375.7,504.4 L376.8,503.2 L377.9,503.7 L379.0,503.0 L380.1,502.8 L381.2,504.0 L382.3,502.7 L383.4,502.2 L384.5,502.5 L385.6,502.7 L386.7,504.1 L387.8,503.0 L388.9,503.4 L390.0,502.3 L391.1,503.1 L392.2,503.3 L393.3,503.9 L394.4,502.5 L395.5,503.2 L396.6,503.1 L397.7,502.4 L398.8,503.1 L399.9,503.2 L401.0,502.2 L402.1,504.0 L403.2,504.2 L404.3,503.9 L405.4,503.6 L406.5,505.3 L407.6,504.7 L408.7,505.2 L409.8,505.5 L410.9,504.5 L412.0,505.3 L413.1,504.8 L414.2,505.0 L415.3,505.0 L416.4,505.1 L417.5,505.7 L418.6,505.2 L419.7,505.0 L420.8,504.8 L421.9,505.1 L423.0,504.3 L424.1,504.4 L425.2,504.5 L426.3,504.1 L427.4,504.2 L428.5,503.8 L429.6,505.2 L430.7,504.8 L431.8,504.2 L432.9,504.0 L434.0,505.2 L435.1,504.2 L436.2,504.0 L437.3,504.2 L438.4,504.2 L439.5,504.8 L440.6,504.0 L441.7,505.1 L442.8,503.3 L443.9,504.0 L445.0,503.0 L446.1,504.5 L447.2,503.3 L448.3,503.5 L449.4,504.0 L450.5,504.2 L451.6,502.9 L452.7,503.3 L453.8,502.7 L454.9,503.6 L456.0,503.5 L457.1,503.4 L458.2,503.3 L459.3,503.5 L460.4,503.3 L461.5,503.9 L462.6,504.3 L463.7,502.2 L464.8,502.9 L465.9,502.5 L467.0,502.8 L468.1,501.8 L469.2,502.2 L470.3,501.6 L471.4,502.5 L472.5,502.1 L473.6,501.9 L474.7,502.1 L475.8,501.6 L476.9,500.7 L478.0,501.7 L479.1,501.2 L480.2,500.6 L481.3,500.8 L482.4,500.4 L483.5,498.4 L484.6,497.8 L485.7,498.4 L486.8,497.7 L487.9,496.0 L489.0,495.2 L490.1,495.0 L491.2,494.5 L492.3,493.2 L493.4,493.4 L494.5,491.9 L495.6,491.1 L496.7,491.3 L497.8,489.3 L498.9,488.3 L500.0,487.1 L501.1,485.4 L502.2,482.7 L503.3,480.6 L504.4,477.7 L505.5,476.5 L506.6,473.3 L507.7,469.7 L508.8,467.7 L509.9,465.3 L511.0,461.7 L512.1,459.6 L513.2,458.1 L514.3,456.5 L515.4,457.1 L516.5,457.3 L517.6,459.2 L518.7,461.0 L519.8,464.6 L520.9,465.6 L522.0,467.3 L523.1,471.3 L524.2,475.5 L525.3,478.7 L526.4,482.2 L527.5,485.4 L528.6,488.2 L529.7,489.8 L530.8,491.0 L531.9,493.2 L533.0,493.6 L534.1,494.6 L535.2,495.0 L536.3,496.1 L536.6,497.0"/>
<path stroke="#00b050" d="M96.3,579.1 L97.4,578.2 L98.5,577.0 L99.6,575.1 L100.7,574.6 L101.8,573.0 L102.9,573.7 L104.0,573.0 L105.1,572.3 L106.2,571.4 L107.3,572.2 L108.4,573.9 L109.5,575.1 L110.6,575.2 L111.7,576.5 L112.8,576.5 L113.9,577.9 L115.0,579.2 L116.1,580.7 L117.2,580.7 L118.3,583.0 L119.4,583.9 L120.5,583.3 L121.6,583.9 L122.7,585.4 L123.8,585.4 L124.9,584.8 L126.0,586.9 L127.1,586.9 L128.2,586.9 L129.3,588.6 L130.4,587.8 L131.5,587.4 L132.6,588.0 L133.7,587.3 L134.8,587.4 L135.9,587.9 L137.0,587.3 L138.1,587.2 L139.2,588.1 L140.3,587.5 L141.4,587.3 L142.5,586.9 L143.6,586.7 L144.7,586.9 L145.8,585.8 L146.9,586.6 L148.0,584.7 L149.1,584.8 L150.2,583.8 L151.3,584.1 L152.4,584.3 L153.5,584.6 L154.6,583.2 L155.7,583.3 L156.8,582.8 L157.9,582.3 L159.0,581.8 L160.1,582.2 L161.2,580.9 L162.3,581.5 L163.4,581.1 L164.5,580.4 L165.6,579.8 L166.7,579.2 L167.8,580.7 L168.9,578.6 L170.0,579.8 L171.1,578.9 L172.2,578.0 L173.3,577.2 L174.4,578.1 L175.5,578.3 L176.6,576.6 L177.7,576.9 L178.8,577.8 L179.9,577.6 L181.0,578.8 L182.1,577.8 L183.2,578.8 L184.3,578.3 L185.4,580.9 L186.5,580.2 L187.6,580.2 L188.7,582.1 L189.8,582.8 L190.9,584.5 L192.0,583.7 L193.1,584.4 L194.2,585.1 L195.3,586.1 L196.4,585.6 L197.5,586.6 L198.6,586.7 L199.7,586.6 L200.8,587.2 L201.9,587.5 L203.0,587.4 L204.1,588.9 L205.2,587.8 L206.3,589.5 L207.4,589.7 L208.5,589.4 L209.6,589.3 L210.7,589.8 L211.8,590.4 L212.9,590.8 L214.0,590.8 L215.1,591.3 L216.2,590.7 L217.3,591.3 L218.4,590.5 L219.5,592.0 L220.6,591.8 L221.7,591.6 L222.8,592.6 L223.9,592.5 L225.0,590.7 L226.1,592.4 L227.2,591.8 L228.3,593.3 L229.4,594.2 L230.5,592.7 L231.6,593.1 L232.7,593.1 L233.8,593.5 L234.9,593.8 L236.0,594.3 L237.1,593.2 L238.2,594.7 L239.3,593.5 L240.4,594.2 L241.5,594.8 L242.6,594.6 L243.7,593.7 L244.8,593.9 L245.9,594.1 L247.0,594.4 L248.1,595.1 L249.2,593.8 L250.3,594.8 L251.4,594.9 L252.5,594.9 L253.6,594.8 L254.7,595.4 L255.8,594.9 L256.9,595.1 L258.0,594.9 L259.1,595.6 L260.2,593.6 L261.3,595.3 L262.4,594.5 L263.5,594.4 L264.6,594.1 L265.7,593.6 L266.8,594.4 L267.9,594.2 L269.0,594.9 L270.1,593.8 L271.2,595.4 L272.3,594.7 L273.4,594.4 L274.5,594.1 L275.6,594.1 L276.7,593.8 L277.8,594.1 L278.9,594.4 L280.0,594.2 L281.1,593.5 L282.2,594.1 L283.3,593.7 L284.4,594.2 L285.5,595.1 L286.6,594.3 L287.7,593.8 L288.8,592.9 L289.9,593.0 L291.0,592.7 L292.1,593.9 L293.2,593.0 L294.3,593.2 L295.4,592.7 L296.5,592.8 L297.6,593.3 L298.7,591.9 L299.8,591.9 L300.9,591.5 L302.0,592.2 L303.1,591.0 L304.2,590.8 L305.3,590.5 L306.4,590.3 L307.5,591.2 L308.6,592.3 L309.7,590.3 L310.8,591.4 L311.9,591.1 L313.0,590.6 L314.1,591.3 L315.2,591.6 L316.3,591.7 L317.4,593.3 L318.5,591.3 L319.6,592.6 L320.7,592.6 L321.8,592.1 L322.9,592.5 L324.0,592.9 L325.1,592.5 L326.2,592.6 L327.3,592.8 L328.4,591.2 L329.5,593.1 L330.6,593.5 L331.7,592.7 L332.8,592.6 L333.9,591.2 L335.0,591.9 L336.1,591.5 L337.2,591.6 L338.3,592.4 L339.4,591.5 L340.5,591.8 L341.6,590.9 L342.7,591.8 L343.8,591.9 L344.9,591.5 L346.0,591.5 L347.1,592.9 L348.2,591.2 L349.3,591.3 L350.4,591.4 L351.5,592.5 L352.6,592.9 L353.7,591.9 L354.8,591.3 L355.9,591.3 L357.0,592.1 L358.1,590.9 L359.2,592.1 L360.3,592.1 L361.4,591.3 L362.5,591.5 L363.6,591.5 L364.7,591.9 L365.8,590.4 L366.9,591.6 L368.0,590.7 L369.1,590.4 L370.2,590.8 L371.3,590.5 L372.4,589.9 L373.5,589.3 L374.6,589.4 L375.7,590.3 L376.8,590.3 L377.9,589.2 L379.0,589.2 L380.1,588.0 L381.2,588.0 L382.3,588.0 L383.4,587.0 L384.5,586.9 L385.6,587.5 L386.7,587.3 L387.8,587.2 L388.9,588.4 L390.0,588.5 L391.1,589.7 L392.2,589.4 L393.3,589.5 L394.4,589.9 L395.5,589.8 L396.6,589.7 L397.7,590.0 L398.8,590.7 L399.9,590.8 L401.0,591.2 L402.1,589.7 L403.2,590.5 L404.3,590.5 L405.4,590.9 L406.5,590.7 L407.6,590.7 L408.7,591.5 L409.8,591.3 L410.9,590.6 L412.0,592.0 L413.1,591.9 L414.2,591.1 L415.3,591.9 L416.4,591.1 L417.5,592.1 L418.6,591.4 L419.7,591.0 L420.8,591.2 L421.9,591.0 L423.0,591.5 L424.1,591.4 L425.2,591.2 L426.3,590.8 L427.4,589.0 L428.5,591.0 L429.6,589.9 L430.7,591.0 L431.8,591.4 L432.9,590.9 L434.0,590.5 L435.1,590.6 L436.2,590.6 L437.3,590.3 L438.4,590.3 L439.5,590.0 L440.6,591.1 L441.7,590.3 L442.8,590.5 L443.9,589.6 L445.0,589.4 L446.1,588.9 L447.2,588.8 L448.3,588.5 L449.4,587.7 L450.5,587.0 L451.6,587.6 L452.7,589.9 L453.8,589.7 L454.9,589.8 L456.0,590.4 L457.1,589.8 L458.2,589.1 L459.3,588.5 L460.4,590.4 L461.5,589.9 L462.6,590.3 L463.7,589.9 L464.8,589.1 L465.9,589.0 L467.0,589.8 L468.1,589.7 L469.2,589.1 L470.3,588.4 L471.4,588.1 L472.5,588.5 L473.6,587.7 L474.7,588.7 L475.8,588.6 L476.9,589.2 L478.0,587.7 L479.1,586.5 L480.2,585.9 L481.3,583.8 L482.4,584.7 L483.5,584.2 L484.6,584.1 L485.7,583.3 L486.8,582.7 L487.9,581.8 L489.0,581.5 L490.1,581.3 L491.2,579.2 L492.3,578.8 L493.4,577.6 L494.5,578.6 L495.6,577.6 L496.7,576.3 L497.8,573.9 L498.9,572.6 L500.0,570.0 L501.1,567.7 L502.2,565.0 L503.3,562.8 L504.4,559.7 L505.5,557.9 L506.6,555.0 L507.7,552.0 L508.8,549.3 L509.9,546.7 L511.0,545.0 L512.1,542.8 L513.2,542.7 L514.3,542.1 L515.4,541.6 L516.5,543.5 L517.6,543.5 L518.7,546.5 L519.8,550.3 L520.9,553.1 L522.0,557.5 L523.1,561.5 L524.2,564.6 L525.3,567.4 L526.4,571.1 L527.5,573.0 L528.6,575.6 L529.7,577.2 L530.8,579.3 L531.9,580.3 L533.0,582.0 L534.1,583.4 L535.2,584.0 L536.3,584.4 L536.6,584.2"/>
</g>
<g font-size="30.3" text-anchor="middle">
<text transform="translate(96.8,662) scale(1,1.035)">36</text>
<text transform="translate(151.2,662) scale(1,1.035)">37</text>
<text transform="translate(206.3,662) scale(1,1.035)">38</text>
<text transform="translate(261.4,662) scale(1,1.035)">39</text>
<text transform="translate(316.5,662) scale(1,1.035)">40</text>
<text transform="translate(371.6,662) scale(1,1.035)">41</text>
<text transform="translate(426.7,662) scale(1,1.035)">42</text>
<text transform="translate(481.8,662) scale(1,1.035)">43</text>
<text transform="translate(536.9,662) scale(1,1.035)">44</text>
</g>
<text transform="translate(316.2,704.4) scale(1,1.035)" font-size="30.4" text-anchor="middle">2θ (degree)</text>
<text transform="translate(31.6,306.7) rotate(-90) scale(1,1.035)" font-size="30.1" text-anchor="middle">Intensity (a.u.)</text>
<text transform="translate(310.9,66.9) scale(1,1.035)" font-size="30.2" text-anchor="middle">Pt(111)</text>
<path d="M309,83.6 L318.8,93.5 L309,103.4 L299.2,93.5 Z" fill="#000" stroke="#3a4a6a" stroke-width="0.6"/>
<line x1="557.8" y1="150.1" x2="606.6" y2="150.1" stroke="#1f7fc6" stroke-width="4.8" stroke-linecap="round"/>
<text transform="translate(628.4,158.5) scale(1,1.035)" font-size="30.3">Cat. A (M-Pt(TEAC)/940HOA)</text>
<line x1="557.8" y1="236.0" x2="606.6" y2="236.0" stroke="#e00000" stroke-width="4.8" stroke-linecap="round"/>
<text transform="translate(628.4,244.4) scale(1,1.035)" font-size="30.3">Cat. B (M-Pt(CTAC)/940HOA)</text>
<line x1="557.8" y1="323.1" x2="606.6" y2="323.1" stroke="#ff0000" stroke-width="4.8" stroke-linecap="round"/>
<text transform="translate(628.4,331.5) scale(1,1.035)" font-size="30.3">Cat. C (M-Pt(TPAB)/940HOA)</text>
<line x1="557.8" y1="409.2" x2="606.6" y2="409.2" stroke="#ffc000" stroke-width="4.8" stroke-linecap="round"/>
<text transform="translate(628.4,417.6) scale(1,1.035)" font-size="30.3">Cat. D (M-Pt(HTAB)/940HOA)</text>
<line x1="557.8" y1="496.5" x2="606.6" y2="496.5" stroke="#66cc33" stroke-width="4.8" stroke-linecap="round"/>
<text transform="translate(628.9,504.9) scale(1,1.035)" font-size="30.3">Cat. E (M-Pt(N<tspan dy="5.1" font-size="19.6">2</tspan><tspan dy="-5.1">H</tspan><tspan dy="5.1" font-size="19.6">4</tspan><tspan dy="-5.1">)/940HOA)</tspan></text>
<line x1="557.8" y1="582.2" x2="606.6" y2="582.2" stroke="#00b050" stroke-width="4.8" stroke-linecap="round"/>
<text transform="translate(628.4,590.6) scale(1,1.035)" font-size="30.3">Cat. J (I-Pt/940HOA)</text>
</svg>
</body></html>
